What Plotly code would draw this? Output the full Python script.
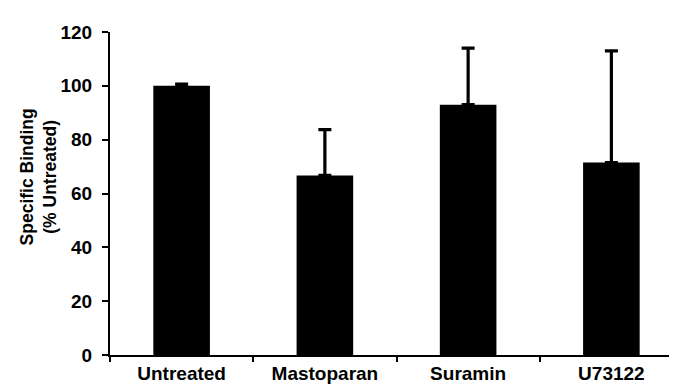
import plotly.graph_objects as go

categories = ["Untreated", "Mastoparan", "Suramin", "U73122"]
values = [100, 66.7, 93, 71.5]
errors_upper = [0.6, 17, 21, 41.5]
y_ticks = [0, 20, 40, 60, 80, 100, 120]

FONT = "Liberation Sans"

fig = go.Figure()
fig.add_trace(go.Bar(
    x=categories, y=values, width=0.395,
    marker=dict(color="black", line=dict(width=0)),
    error_y=dict(type="data", array=errors_upper, arrayminus=[0]*len(values),
                 symmetric=False, color="black", thickness=3.2, width=6.5),
))

fig.update_layout(
    width=677, height=384,
    margin=dict(l=102, r=2, t=24, b=37, autoexpand=False),
    plot_bgcolor="white", paper_bgcolor="white",
    showlegend=False,
    font=dict(family=FONT, color="black", size=19, weight="bold"),
    xaxis=dict(
        type="category", range=[-0.5, 3.5], tickson="boundaries",
        ticks="outside", ticklen=5, tickwidth=2, tickcolor="black",
        showline=True, linewidth=2, linecolor="black", showgrid=False,
        tickfont=dict(family=FONT, size=19, weight="bold", color="black"),
        automargin=False,
    ),
    yaxis=dict(
        range=[0, 120], tickvals=y_ticks,
        ticks="outside", ticklen=6, tickwidth=2, tickcolor="black",
        showline=True, linewidth=2, linecolor="black", showgrid=False,
        zeroline=False, ticklabelstandoff=6,
        tickfont=dict(family=FONT, size=19, weight="bold", color="black"),
        automargin=False,
    ),
    annotations=[dict(
        text="Specific Binding<br>(% Untreated)", textangle=-90,
        xref="paper", yref="paper", x=-0.125, y=0.551,
        xanchor="center", yanchor="middle", showarrow=False,
        font=dict(family=FONT, size=17.5, weight="bold", color="black"),
    )],
)

fig.write_html("out.html")
